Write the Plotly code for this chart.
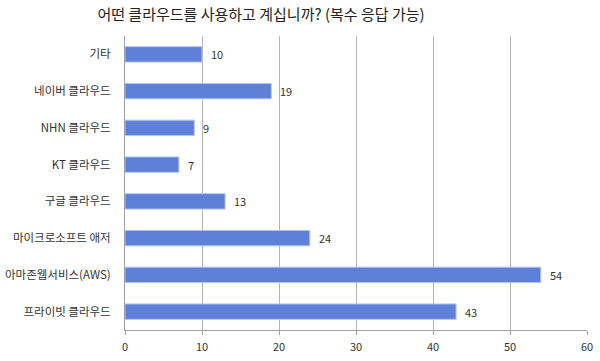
import plotly.graph_objects as go

categories = ["기타", "네이버 클라우드", "NHN 클라우드", "KT 클라우드", "구글 클라우드",
              "마이크로소프트 애저", "아마존웹서비스(AWS)", "프라이빗 클라우드"]
values = [10, 19, 9, 7, 13, 24, 54, 43]
x_ticks = [0, 10, 20, 30, 40, 50, 60]
title_text = "어떤 클라우드를 사용하고 계십니까? (복수 응답 가능)"

FONT = "Noto Sans CJK KR"

fig = go.Figure()
fig.add_trace(go.Bar(
    x=values, y=categories, orientation="h",
    marker=dict(color="#5f80d9", line=dict(color="#b4c5f2", width=1)),
    width=0.42,
    hoverinfo="x+y",
))

for c, v in zip(categories, values):
    fig.add_annotation(x=v, y=c, text=str(v), showarrow=False,
                       xanchor="left", xshift=7,
                       font=dict(family=FONT, size=11, color="#333333"))

fig.update_layout(
    width=600, height=361,
    margin=dict(l=125, r=13, t=36, b=31),
    paper_bgcolor="white", plot_bgcolor="white",
    showlegend=False,
    title=dict(text=title_text, x=0.435, xanchor="center", y=0.96, yanchor="middle",
               font=dict(family=FONT, size=15, color="#222222")),
    font=dict(family=FONT, size=11, color="#333333"),
    bargap=0.58,
)
fig.update_xaxes(range=[0, 60], tickvals=x_ticks, showgrid=True, gridcolor="#b4b4b4",
                 gridwidth=1, zeroline=False, showline=True, linecolor="#a0a0a0",
                 ticks="outside", ticklen=4, tickcolor="#a0a0a0", automargin=False,
                 ticklabelstandoff=3,
                 tickfont=dict(family=FONT, size=11, color="#333333"))
fig.update_yaxes(autorange="reversed", showgrid=False, showline=True, linecolor="#a0a0a0",
                 ticks="", ticklabelstandoff=11, automargin=False,
                 tickfont=dict(family=FONT, size=11.5, color="#333333"))

fig.write_html("out.html")
